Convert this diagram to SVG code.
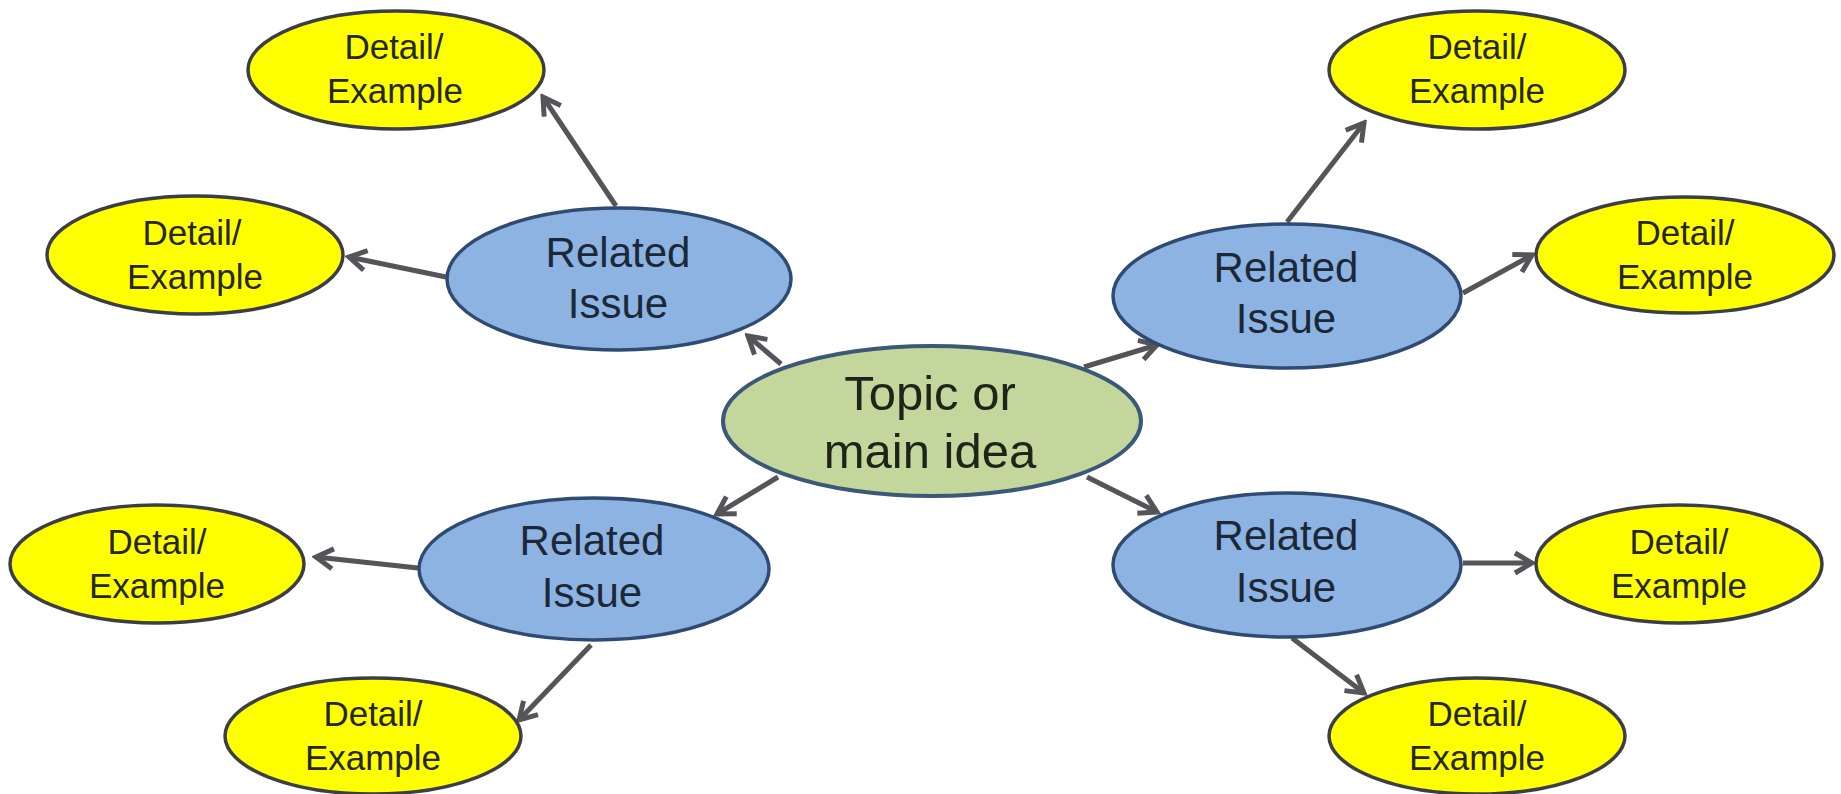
<svg xmlns="http://www.w3.org/2000/svg" width="1841" height="794" viewBox="0 0 1841 794">
<defs>
<style>
.detail{fill:#FFFF00;stroke:#3b3f45;stroke-width:3.5}
.issue{fill:#8DB3E2;stroke:#2f4b72;stroke-width:3.5}
.topic{fill:#C3D69B;stroke:#3c5878;stroke-width:4}
text{font-family:"Liberation Sans",Arial,sans-serif;text-anchor:middle}
.dt{font-size:35px;fill:#262616}
.it{font-size:42px;fill:#1c2838}
.tt{font-size:49px;fill:#1e2418}
.conn line{stroke:#555559;stroke-width:5;marker-end:url(#arr)}
</style>
<marker id="arr" markerUnits="userSpaceOnUse" viewBox="0 0 26 26" markerWidth="26" markerHeight="26" refX="22" refY="13" orient="auto">
<path d="M5,3 L22,13 L5,23" fill="none" stroke="#555559" stroke-width="5" stroke-linejoin="miter"/>
</marker>
</defs>
<rect width="1841" height="794" fill="#ffffff"/>
<g id="connectors" class="conn">
<line x1="781" y1="364" x2="748" y2="336"/>
<line x1="1084" y1="367" x2="1157" y2="345"/>
<line x1="778" y1="477" x2="717" y2="514"/>
<line x1="1087" y1="477" x2="1157" y2="512"/>
<line x1="616" y1="206" x2="543" y2="97"/>
<line x1="446" y1="277" x2="349" y2="257"/>
<line x1="1287" y1="222" x2="1364" y2="123"/>
<line x1="1463" y1="293" x2="1532" y2="255"/>
<line x1="418" y1="568" x2="316" y2="557"/>
<line x1="591" y1="645" x2="519" y2="720"/>
<line x1="1463" y1="563" x2="1532" y2="563"/>
<line x1="1292" y1="638" x2="1364" y2="693"/>
</g>
<g id="topic">
<ellipse class="topic" cx="932" cy="421" rx="209" ry="75"/>
<text class="tt" x="930" y="410">Topic or</text>
<text class="tt" x="930" y="468">main idea</text>
</g>
<g id="issue-tl">
<ellipse class="issue" cx="619" cy="279" rx="172" ry="71"/>
<text class="it" x="618" y="267">Related</text>
<text class="it" x="618" y="318">Issue</text>
</g>
<g id="issue-tr">
<ellipse class="issue" cx="1287" cy="296" rx="174" ry="72"/>
<text class="it" x="1286" y="282">Related</text>
<text class="it" x="1286" y="333">Issue</text>
</g>
<g id="issue-bl">
<ellipse class="issue" cx="594" cy="569" rx="175" ry="71"/>
<text class="it" x="592" y="555">Related</text>
<text class="it" x="592" y="607">Issue</text>
</g>
<g id="issue-br">
<ellipse class="issue" cx="1287" cy="565" rx="174" ry="72"/>
<text class="it" x="1286" y="550">Related</text>
<text class="it" x="1286" y="602">Issue</text>
</g>
<g id="detail-tl-top">
<ellipse class="detail" cx="396" cy="70" rx="148" ry="59"/>
<text class="dt" x="394" y="59">Detail/</text>
<text class="dt" x="395" y="103">Example</text>
</g>
<g id="detail-tl-left">
<ellipse class="detail" cx="195" cy="255" rx="148" ry="59"/>
<text class="dt" x="192" y="245">Detail/</text>
<text class="dt" x="195" y="289">Example</text>
</g>
<g id="detail-tr-top">
<ellipse class="detail" cx="1477" cy="70" rx="148" ry="59"/>
<text class="dt" x="1477" y="59">Detail/</text>
<text class="dt" x="1477" y="103">Example</text>
</g>
<g id="detail-tr-right">
<ellipse class="detail" cx="1685" cy="255" rx="149" ry="58"/>
<text class="dt" x="1685" y="245">Detail/</text>
<text class="dt" x="1685" y="289">Example</text>
</g>
<g id="detail-bl-left">
<ellipse class="detail" cx="157" cy="564" rx="147" ry="59"/>
<text class="dt" x="157" y="554">Detail/</text>
<text class="dt" x="157" y="598">Example</text>
</g>
<g id="detail-bl-bottom">
<ellipse class="detail" cx="373" cy="736" rx="148" ry="58"/>
<text class="dt" x="373" y="726">Detail/</text>
<text class="dt" x="373" y="770">Example</text>
</g>
<g id="detail-br-right">
<ellipse class="detail" cx="1679" cy="564" rx="143" ry="59"/>
<text class="dt" x="1679" y="554">Detail/</text>
<text class="dt" x="1679" y="598">Example</text>
</g>
<g id="detail-br-bottom">
<ellipse class="detail" cx="1477" cy="736" rx="148" ry="58"/>
<text class="dt" x="1477" y="726">Detail/</text>
<text class="dt" x="1477" y="770">Example</text>
</g>
</svg>
